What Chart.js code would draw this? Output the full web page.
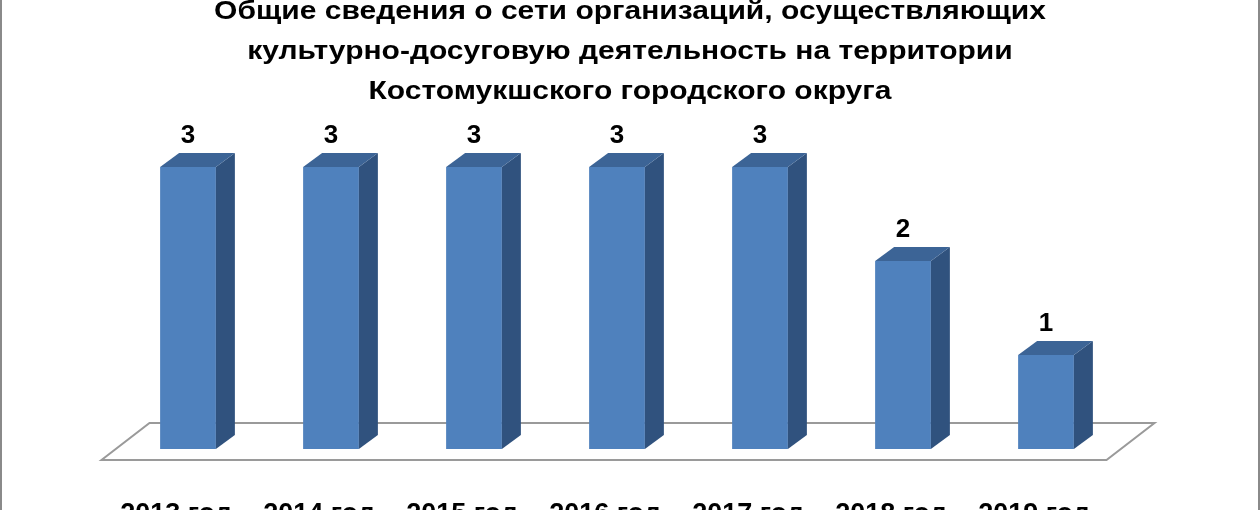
<!DOCTYPE html>
<html>
<head>
<meta charset="utf-8">
<script src="https://cdn.jsdelivr.net/npm/chart.js@4"></script>
<style>
  html, body { margin: 0; padding: 0; background: #fff; overflow: hidden; }
  #wrap { position: relative; width: 1260px; height: 510px; overflow: hidden; }
  #myChart { position: absolute; left: 0; top: 0; }
  #frame { position: absolute; left: 0; top: -10px; width: 1256px; height: 600px; border: 2px solid #8a8a8a; pointer-events: none; }
</style>
</head>
<body>
<div id="wrap">
  <canvas id="myChart" width="1260" height="545"></canvas>
  <div id="frame"></div>
</div>
<script>
const years = ['2013 год', '2014 год', '2015 год', '2016 год', '2017 год', '2018 год', '2019 год'];
const orgCounts = [3, 3, 3, 3, 3, 2, 1];
const titleLines = [
    'Общие сведения о сети организаций, осуществляющих',
    'культурно-досуговую деятельность на территории',
    'Костомукшского городского округа'
];

const DEPTH_X = 19, DEPTH_Y = 14; // смещение боковой и верхней грани

// пол, объёмные грани столбиков, подписи и заголовок
const bar3d = {
    id: 'bar3d',
    beforeDatasetsDraw(chart) {
        const ctx = chart.ctx;
        const a = chart.chartArea;
        const fy = a.bottom + 11;
        const fx1 = a.left - 15, fx2 = a.right - 11;
        ctx.save();
        ctx.beginPath();
        ctx.moveTo(fx1, fy);
        ctx.lineTo(fx2, fy);
        ctx.lineTo(fx2 + 48, fy - 37);
        ctx.lineTo(fx1 + 48, fy - 37);
        ctx.closePath();
        ctx.fillStyle = '#ffffff';
        ctx.fill();
        ctx.strokeStyle = '#9a9a9a';
        ctx.lineWidth = 2;
        ctx.stroke();
        ctx.restore();
    },
    afterDatasetsDraw(chart) {
        const ctx = chart.ctx;
        const meta = chart.getDatasetMeta(0);
        ctx.save();
        meta.data.forEach((bar, i) => {
            const p = bar.getProps(['x', 'y', 'base', 'width'], true);
            const l = p.x - p.width / 2, r = p.x + p.width / 2;
            // боковая грань
            ctx.beginPath();
            ctx.moveTo(r, p.y);
            ctx.lineTo(r + DEPTH_X, p.y - DEPTH_Y);
            ctx.lineTo(r + DEPTH_X, p.base - DEPTH_Y);
            ctx.lineTo(r, p.base);
            ctx.closePath();
            ctx.fillStyle = '#30527e';
            ctx.fill();
            // верхняя грань
            ctx.beginPath();
            ctx.moveTo(l, p.y);
            ctx.lineTo(l + DEPTH_X, p.y - DEPTH_Y);
            ctx.lineTo(r + DEPTH_X, p.y - DEPTH_Y);
            ctx.lineTo(r, p.y);
            ctx.closePath();
            ctx.fillStyle = '#3c6496';
            ctx.fill();
            // подпись значения
            ctx.fillStyle = '#000';
            ctx.font = 'bold 26px "Liberation Sans", Arial, sans-serif';
            ctx.textAlign = 'center';
            ctx.textBaseline = 'middle';
            ctx.fillText(orgCounts[i], p.x, p.y - 31);
        });
        // заголовок (шрифт растянут по ширине, как в оригинале)
        ctx.fillStyle = '#000';
        ctx.font = 'bold 25px "Liberation Sans", Arial, sans-serif';
        ctx.textAlign = 'center';
        ctx.textBaseline = 'middle';
        titleLines.forEach((t, i) => {
            ctx.save();
            ctx.translate(630, 12.5 + i * 40);
            ctx.scale(1.2, 1);
            ctx.fillText(t, 0, 0);
            ctx.restore();
        });
        ctx.restore();
    }
};

const ctx = document.getElementById('myChart').getContext('2d');
const myChart = new Chart(ctx, {
    type: 'bar',
    data: {
        labels: years,
        datasets: [{
            data: orgCounts,
            backgroundColor: '#4f81bd',
            borderWidth: 0,
            barPercentage: 0.39,
            categoryPercentage: 1
        }]
    },
    options: {
        responsive: false,
        devicePixelRatio: 1,
        animation: false,
        layout: { padding: { left: 116.5, right: 142.5, top: 120, bottom: 16 } },
        plugins: {
            legend: { display: false },
            title: { display: false },
            tooltip: { enabled: false }
        },
        scales: {
            x: {
                grid: { display: false },
                border: { display: false },
                afterFit(scale) { scale.height = 80; },
                ticks: {
                    color: '#000',
                    font: { family: '"Liberation Sans", Arial, sans-serif', size: 27, weight: 'bold' },
                    padding: 41,
                    labelOffset: -12,
                    maxRotation: 0,
                    autoSkip: false
                }
            },
            y: {
                display: false,
                min: 0,
                max: 3.5
            }
        }
    },
    plugins: [bar3d]
});
</script>
</body>
</html>
